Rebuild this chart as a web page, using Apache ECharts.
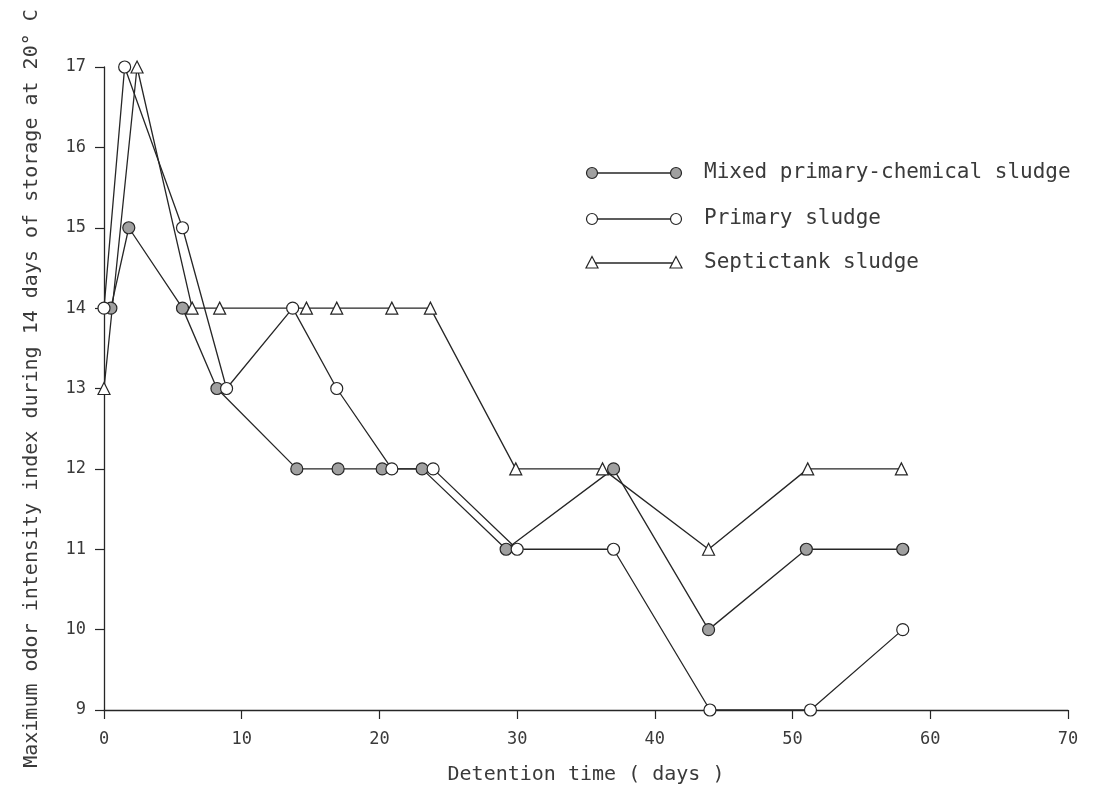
<!DOCTYPE html>
<html>
<head>
<meta charset="utf-8">
<script src="https://cdn.jsdelivr.net/npm/echarts@6/dist/echarts.min.js"></script>
<style>
html,body{margin:0;padding:0;background:#fff;}
#chart{width:1095px;height:791px;}
</style>
</head>
<body>
<div id="chart"></div>
<script>
// ---- data ----
const seriesNames = ['Mixed primary-chemical sludge', 'Primary sludge', 'Septictank sludge'];

const mixedX = [0.5, 1.8, 5.7, 8.2, 14, 17, 20.2, 23.1, 29.2, 37, 43.9, 51, 58];
const mixedY = [14, 15, 14, 13, 12, 12, 12, 12, 11, 12, 10, 11, 11];

const primaryX = [0, 1.5, 5.7, 8.9, 13.7, 16.9, 20.9, 23.9, 30, 37, 44, 51.3, 58];
const primaryY = [14, 17, 15, 13, 14, 13, 12, 12, 11, 11, 9, 9, 10];

const septicX = [0, 2.4, 6.4, 8.4, 14.7, 16.9, 20.9, 23.7, 29.9, 36.2, 43.9, 51.1, 57.9];
const septicY = [13, 17, 14, 14, 14, 14, 14, 14, 12, 12, 11, 12, 12];

const xTicks = [0, 10, 20, 30, 40, 50, 60, 70];
const yTicks = [9, 10, 11, 12, 13, 14, 15, 16, 17];

const xTitle = 'Detention time ( days )';
const yTitle = 'Maximum odor intensity index during 14 days of storage at 20\u00B0 C';

// ---- build ----
const pairs = (xs, ys) => xs.map((x, i) => [x, ys[i]]);
const FONT = 'DejaVu Sans Mono';
const INK = '#262626';
const TXT = '#3a3a3a';

const chart = echarts.init(document.getElementById('chart'), null, {renderer: 'canvas'});

const lineBase = {
  type: 'line',
  symbolSize: 12,
  lineStyle: {color: INK, width: 1.3},
  emphasis: {disabled: true},
  animation: false,
  clip: false,
  z: 3
};

const legendRows = [
  {y: 173, sym: 'circle', fill: '#a0a0a0'},
  {y: 219, sym: 'circle', fill: '#ffffff'},
  {y: 263, sym: 'triangle', fill: '#ffffff'}
];
const graphics = [];
legendRows.forEach((r, i) => {
  graphics.push({type: 'line', shape: {x1: 592, y1: r.y, x2: 676, y2: r.y}, style: {stroke: INK, lineWidth: 1.3}, z: 10});
  [592, 676].forEach(cx => {
    if (r.sym === 'circle') {
      graphics.push({type: 'circle', shape: {cx: cx, cy: r.y, r: 5.5}, style: {fill: r.fill, stroke: INK, lineWidth: 1.2}, z: 11});
    } else {
      graphics.push({type: 'polygon', shape: {points: [[cx, r.y - 6.5], [cx - 6, r.y + 5], [cx + 6, r.y + 5]]}, style: {fill: r.fill, stroke: INK, lineWidth: 1.2}, z: 11});
    }
  });
  graphics.push({type: 'text', x: 704, y: r.y, style: {text: seriesNames[i], font: '21px "' + FONT + '"', fill: TXT, verticalAlign: 'middle', align: 'left'}, z: 11});
});

const option = {
  backgroundColor: '#ffffff',
  animation: false,
  grid: {left: 104, right: 27, top: 67, bottom: 81, containLabel: false},
  xAxis: {
    type: 'value',
    min: xTicks[0], max: xTicks[xTicks.length - 1], interval: 10,
    name: xTitle, nameLocation: 'middle', nameGap: 55,
    nameTextStyle: {fontFamily: FONT, fontSize: 20, color: TXT},
    axisLine: {show: true, onZero: false, lineStyle: {color: INK, width: 1.3}},
    axisTick: {show: true, inside: false, length: 9, lineStyle: {color: INK, width: 1.2}},
    axisLabel: {fontFamily: FONT, fontSize: 17, color: TXT, margin: 21,
      formatter: v => xTicks.includes(v) ? String(v) : ''},
    splitLine: {show: false}
  },
  yAxis: {
    type: 'value',
    min: yTicks[0], max: yTicks[yTicks.length - 1], interval: 1,
    name: yTitle, nameLocation: 'middle', nameGap: 62,
    nameTextStyle: {fontFamily: FONT, fontSize: 20, color: TXT},
    axisLine: {show: true, onZero: false, lineStyle: {color: INK, width: 1.3}},
    axisTick: {show: true, inside: false, length: 9, lineStyle: {color: INK, width: 1.2}},
    axisLabel: {fontFamily: FONT, fontSize: 17, color: TXT, margin: 18,
      formatter: v => yTicks.includes(v) ? String(v) : ''},
    splitLine: {show: false}
  },
  series: [
    Object.assign({}, lineBase, {
      name: seriesNames[0], symbol: 'circle',
      itemStyle: {color: '#a0a0a0', borderColor: INK, borderWidth: 1.2},
      data: pairs(mixedX, mixedY)
    }),
    Object.assign({}, lineBase, {
      name: seriesNames[1], symbol: 'circle',
      itemStyle: {color: '#ffffff', borderColor: INK, borderWidth: 1.2},
      data: pairs(primaryX, primaryY)
    }),
    Object.assign({}, lineBase, {
      name: seriesNames[2], symbol: 'triangle', symbolSize: 12,
      itemStyle: {color: '#ffffff', borderColor: INK, borderWidth: 1.2},
      data: pairs(septicX, septicY)
    })
  ],
  graphic: graphics
};
chart.setOption(option);
</script>
</body>
</html>
